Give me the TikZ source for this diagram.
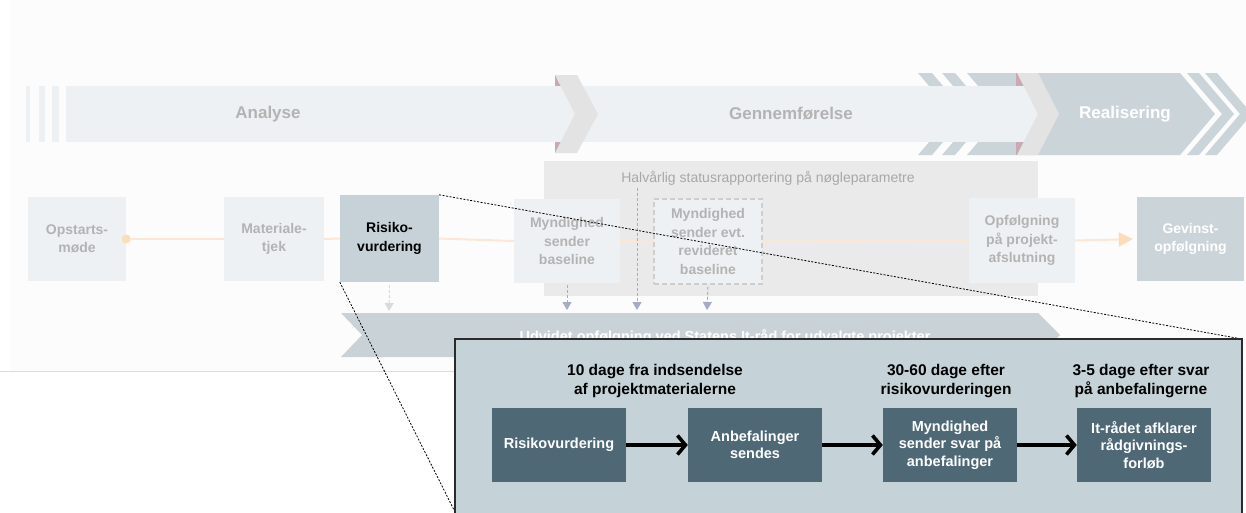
\documentclass[tikz,border=0pt]{standalone}
\usepackage{fontspec}
\setmainfont{Liberation Sans}
\usetikzlibrary{arrows.meta}
\definecolor{bgtop}{HTML}{FCFCFC}
\definecolor{bandlight}{HTML}{EDF1F4}
\definecolor{chev}{HTML}{E3E3E3}
\definecolor{pinkish}{HTML}{C9A9B3}
\definecolor{realgrey}{HTML}{CBD5D9}
\definecolor{bandtext}{HTML}{B3B3B3}
\definecolor{rowfill}{HTML}{EEF1F3}
\definecolor{rowtext}{HTML}{B3B3B3}
\definecolor{riskfill}{HTML}{C6D2D8}
\definecolor{halvfill}{HTML}{EAEAEA}
\definecolor{halvtext}{HTML}{A8A8A8}
\definecolor{dasharrow}{HTML}{A4ADC3}
\definecolor{lightarrow}{HTML}{DADADA}
\definecolor{dashbox}{HTML}{CDCDCD}
\definecolor{orangeline}{HTML}{FCE7D2}
\definecolor{orangedot}{HTML}{FBDDBB}
\definecolor{udvfill}{HTML}{C9D3D7}
\definecolor{panelfill}{HTML}{C5D2D8}
\definecolor{panelbox}{HTML}{4E6975}
\definecolor{panelborder}{HTML}{2B2B2B}
\definecolor{sepline}{HTML}{DCDCDC}
\begin{document}
\begin{tikzpicture}[x=1pt,y=-1pt,
  bandlabel/.style={font=\fontsize{17}{20}\selectfont\bfseries},
  rowbox/.style={fill=rowfill, text=rowtext, inner sep=0pt, align=center,
    minimum width=98pt, minimum height=84pt,
    font=\fontsize{14}{18.5}\selectfont\bfseries},
  pbox/.style={fill=panelbox, text=white, inner sep=0pt, align=center,
    minimum width=134pt, minimum height=74pt,
    font=\fontsize{14.5}{17.5}\selectfont\bfseries},
  phead/.style={align=center, text=black, inner sep=0pt,
    font=\fontsize{15.5}{18.5}\selectfont\bfseries},
  vdash/.style={draw=dasharrow, line width=1pt, dash pattern=on 3pt off 2pt,
    -{Triangle[length=8pt,width=9pt,fill=dasharrow]}},
  parrow/.style={draw=black, line width=3.6pt,
    -{Straight Barb[length=8pt,width=19pt]}},
  oline/.style={draw=orangeline, line width=2pt},
  zoomline/.style={draw=black, line width=0.8pt, dash pattern=on 2pt off 1.5pt}
]
\useasboundingbox (0,0) rectangle (1246,512);
\fill[white] (0,0) rectangle (1246,512);
\fill[bgtop] (10,0) rectangle (1246,371);
\draw[sepline, line width=1pt] (0,371) -- (455,371);

% Realisering band with chevron stripes
\fill[realgrey] (918,73) -- (932,73) -- (967,114) -- (932,155) -- (918,155) -- (953,114) -- cycle;
\fill[realgrey] (942,73) -- (955,73) -- (990,114) -- (955,155) -- (942,155) -- (977,114) -- cycle;
\fill[realgrey] (967,73) -- (1180,73) -- (1215,114) -- (1180,155) -- (967,155) -- (1002,114) -- cycle;
\fill[realgrey] (1187,73) -- (1199,73) -- (1234,114) -- (1199,155) -- (1187,155) -- (1222,114) -- cycle;
\fill[realgrey] (1205,73) -- (1217,73) -- (1252,114) -- (1217,155) -- (1205,155) -- (1240,114) -- cycle;

% pink pieces behind chevrons
\fill[pinkish] (555,75) rectangle (565,153);
\fill[pinkish] (1016,73) rectangle (1026,155);

% light band
\fill[bandlight] (26,86) rectangle (30,142);
\fill[bandlight] (39,86) rectangle (45,142);
\fill[bandlight] (52,86) rectangle (59,142);
\fill[bandlight] (66,86) rectangle (1038,142);

% chevrons
\fill[chev] (555,75) -- (577,75) -- (598,114) -- (577,153) -- (555,153) -- (575,114) -- cycle;
\fill[chev] (1017,73) -- (1038,73) -- (1059,114) -- (1038,155) -- (1017,155) -- (1038,114) -- cycle;

\node[bandlabel, text=bandtext] (analyse) at (268,114) {Analyse};
\node[bandlabel, text=bandtext] (gennem) at (791,114) {Gennemførelse};
\node[bandlabel, text=white] (real) at (1125,114) {Realisering};

% Halvaarlig box
\fill[halvfill] (544,161) rectangle (1038,296);
\node[text=halvtext, font=\fontsize{14}{17}\selectfont, inner sep=0pt] (halv) at (768,178) {Halvårlig statusrapportering på nøgleparametre};
\coordinate (halvstart) at (637,188);

% row boxes
\node[rowbox] (opst) at (77,239) {Opstarts-\\møde};
\node[rowbox, minimum width=100pt] (mat) at (274,239) {Materiale-\\tjek};
\node[rowbox, fill=riskfill, text=black, minimum width=99pt, minimum height=87pt] (risk) at (389.5,238.5) {Risiko-\\vurdering};
\node[rowbox, minimum width=106pt] (mynd) at (567,241) {Myndighed\\sender\\baseline};
\node[rowbox, minimum width=108pt, minimum height=85pt, draw=dashbox, line width=1.5pt, dash pattern=on 5pt off 3pt] (rev) at (708,241.5) {Myndighed\\sender evt.\\revideret\\baseline};
\node[rowbox, minimum width=106pt, minimum height=85pt] (opf) at (1022,240.5) {Opfølgning\\på projekt-\\afslutning};
\node[rowbox, fill=realgrey, text=white, minimum width=107pt] (gev) at (1190.5,239) {Gevinst-\\opfølgning};

% orange timeline
\node[circle, fill=orangedot, minimum size=9pt, inner sep=0pt] (dot) at (opst.east) {};
\draw[oline] (dot) -- (mat.west);
\draw[oline] (mat.east) -- (risk.west);
\draw[oline] (risk.east) -- (mynd.west);
\draw[oline] (mynd.east) -- (rev.west);
\draw[oline] (rev.east) -- (opf.west);
\draw[oline, shorten >=4pt, -{Triangle[length=14pt,width=14pt,fill=orangedot,color=orangedot]}] (opf.east) -- (gev.west);

% Udvidet band
\fill[udvfill] (341,313) -- (1038,313) -- (1060,335) -- (1038,357) -- (341,357) -- (362,335) -- cycle;
\node[anchor=base, text=white, inner sep=0pt, font=\fontsize{14.5}{17}\selectfont\bfseries] (udv) at (725,341.5) {Udvidet opfølgning ved Statens It-råd for udvalgte projekter};

% arrows down to band
\coordinate (t1) at (389,311);
\coordinate (t2) at (567,310);
\coordinate (t3) at (637,310);
\coordinate (t4) at (707,310);
\draw[draw=lightarrow, line width=1pt, dash pattern=on 3pt off 2pt, -{Triangle[length=8pt,width=9pt,fill=lightarrow]}] ([yshift=-3pt]risk.south) -- (t1);
\draw[vdash] ([yshift=-2pt]mynd.south) -- (t2);
\draw[vdash] (halvstart) -- (t3);
\draw[vdash] ([yshift=-2pt]rev.south) -- (t4);

% zoom lines
\coordinate (pne) at (1242,339);
\coordinate (psw) at (455,512);
\draw[zoomline] (risk.north east) -- (pne);
\draw[zoomline] (risk.south west) -- (psw);

% panel
\draw[panelborder, fill=panelfill, line width=1.5pt] (455,339) rectangle (1242,530);
\node[phead] (h1) at (655,381) {10 dage fra indsendelse\\af projektmaterialerne};
\node[phead] (h2) at (946,381) {30-60 dage efter\\risikovurderingen};
\node[phead] (h3) at (1141,381) {3-5 dage efter svar\\på anbefalingerne};
\node[pbox] (b1) at (559,445) {Risikovurdering};
\node[pbox] (b2) at (755,445) {Anbefalinger\\sendes};
\node[pbox] (b3) at (950,445) {Myndighed\\sender svar på\\anbefalinger};
\node[pbox] (b4) at (1144,445) {It-rådet afklarer\\rådgivnings-\\forløb};
\draw[parrow] (b1) -- (b2);
\draw[parrow] (b2) -- (b3);
\draw[parrow] (b3) -- (b4);
\end{tikzpicture}
\end{document}
